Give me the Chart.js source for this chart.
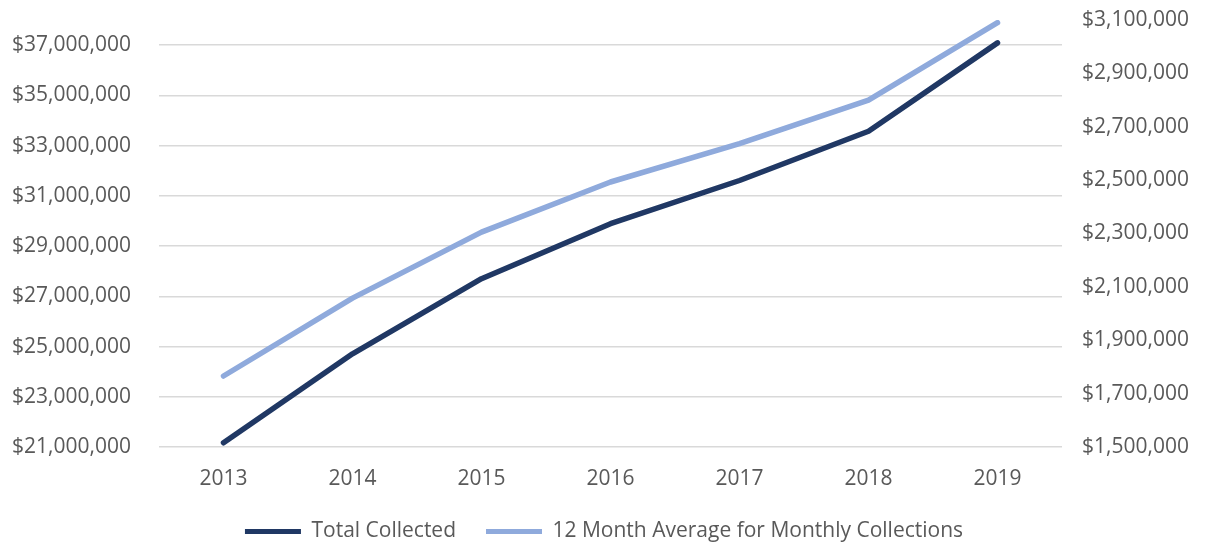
<!DOCTYPE html>
<html lang="en">
<head>
<meta charset="UTF-8">
<title>Collections 2013-2019</title>
<script src="https://cdn.jsdelivr.net/npm/chart.js"></script>
<style>
    body {
        margin: 0;
        padding: 0;
        background: #ffffff;
    }
    .wrap {
        width: 1208px;
        height: 544px;
    }
</style>
</head>
<body>
<div class="wrap">
    <canvas id="myChart" width="1208" height="544"></canvas>
</div>

<script>
    var years = ['2013', '2014', '2015', '2016', '2017', '2018', '2019'];
    var totalCollected = [21170000, 24710000, 27700000, 29890000, 31610000, 33570000, 37090000];
    var monthlyAverage = [1766000, 2058000, 2305000, 2493000, 2637000, 2800000, 3090000];
    var leftTicks = [21000000, 23000000, 25000000, 27000000, 29000000, 31000000, 33000000, 35000000, 37000000];
    var rightTicks = [1500000, 1700000, 1900000, 2100000, 2300000, 2500000, 2700000, 2900000, 3100000];

    var textColor = '#595959';
    var font = { family: '"Open Sans", sans-serif', size: 21 };

    function money(v) {
        return '$' + Number(v).toLocaleString('en-US');
    }

    var ctx = document.getElementById('myChart').getContext('2d');
    var myChart = new Chart(ctx, {
        type: 'line',
        data: {
            labels: years,
            datasets: [{
                label: 'Total Collected',
                data: totalCollected,
                yAxisID: 'y',
                borderColor: '#203864',
                backgroundColor: '#203864',
                borderWidth: 5.5,
                borderCapStyle: 'round',
                borderJoinStyle: 'round',
                pointRadius: 0,
                tension: 0
            }, {
                label: '12 Month Average for Monthly Collections',
                data: monthlyAverage,
                yAxisID: 'y1',
                borderColor: '#8FAADC',
                backgroundColor: '#8FAADC',
                borderWidth: 5.5,
                borderCapStyle: 'round',
                borderJoinStyle: 'round',
                pointRadius: 0,
                tension: 0
            }]
        },
        options: {
            responsive: false,
            animation: false,
            layout: {
                padding: { top: 20, bottom: -8 }
            },
            scales: {
                x: {
                    offset: true,
                    grid: { display: false },
                    border: { display: false },
                    ticks: { color: textColor, font: font, padding: 11 },
                    afterFit: function (axis) { axis.height = 44; }
                },
                y: {
                    position: 'left',
                    min: 21000000,
                    max: 38000000,
                    afterBuildTicks: function (axis) {
                        axis.ticks = leftTicks.map(function (v) { return { value: v }; });
                    },
                    afterFit: function (axis) { axis.width = 159; },
                    grid: { color: '#D9D9D9', lineWidth: 1.5, tickLength: 28, tickColor: 'rgba(0,0,0,0)' },
                    border: { display: false },
                    ticks: {
                        color: textColor,
                        font: font,
                        padding: 0,
                        callback: function (v) { return money(v); }
                    }
                },
                y1: {
                    position: 'right',
                    min: 1500000,
                    max: 3100000,
                    afterBuildTicks: function (axis) {
                        axis.ticks = rightTicks.map(function (v) { return { value: v }; });
                    },
                    afterFit: function (axis) { axis.width = 146; },
                    grid: { drawOnChartArea: false, color: 'rgba(0,0,0,0)', tickLength: 20, tickColor: 'rgba(0,0,0,0)' },
                    border: { display: false },
                    ticks: {
                        color: textColor,
                        font: font,
                        padding: 0,
                        callback: function (v) { return money(v); }
                    }
                }
            },
            plugins: {
                legend: {
                    position: 'bottom',
                    labels: {
                        color: textColor,
                        font: font,
                        boxWidth: 56,
                        boxHeight: 5,
                        padding: 30,
                        generateLabels: function (chart) {
                            return chart.data.datasets.map(function (ds, i) {
                                return {
                                    text: ds.label,
                                    fillStyle: ds.borderColor,
                                    strokeStyle: ds.borderColor,
                                    lineWidth: 0,
                                    fontColor: textColor,
                                    datasetIndex: i
                                };
                            });
                        }
                    }
                },
                tooltip: { enabled: false }
            }
        }
    });
</script>
</body>
</html>
